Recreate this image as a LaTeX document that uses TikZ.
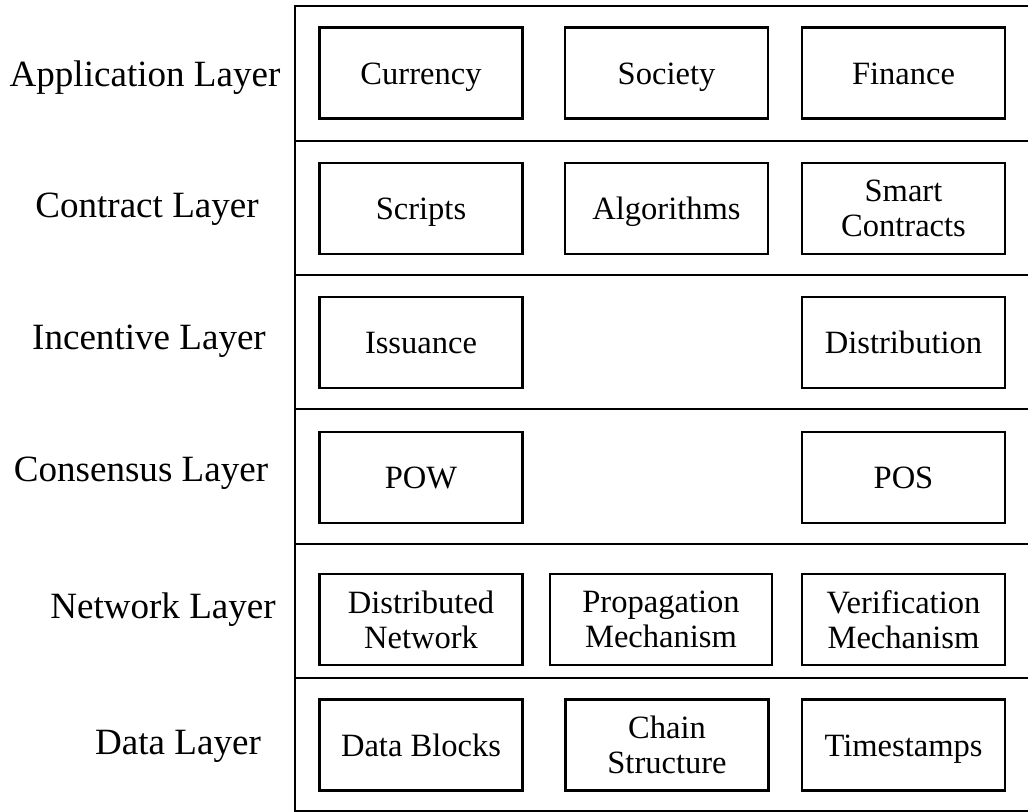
\documentclass[tikz,border=0pt]{standalone}
\usepackage{fontspec}
\setmainfont{Liberation Serif}

\begin{document}
\begin{tikzpicture}[x=0.75pt,y=-0.75pt,
  frame/.style={line width=1.6pt},
  layer/.style={inner sep=0pt,font=\fontsize{27.8}{30}\selectfont},
  item/.style={draw,line width=1.8pt,minimum width=152pt,minimum height=68pt,
    inner sep=0pt,align=center,font=\fontsize{24.4}{26.3}\selectfont},
  oneline/.style={text height=16.8pt,text depth=0pt}]

  % \draw[step=50,thin,gray] (0,0) grid (1028,812);
  \useasboundingbox (0,0) rectangle (1028,812);

  % outer frame, open to the right
  \draw[frame] (1030,6) -- (295,6) -- (295,811) -- (1030,811);
  \draw[frame] (295,141) -- (1030,141);
  \draw[frame] (295,275) -- (1030,275);
  \draw[frame] (295,409) -- (1030,409);
  \draw[frame] (295,544) -- (1030,544);
  \draw[frame] (295,678) -- (1030,678);

  % layer names
  \draw (145,78) node (lapp) [layer] {Application Layer};
  \draw (147,209.5) node (lcon) [layer] {Contract Layer};
  \draw (149,341) node (linc) [layer] {Incentive Layer};
  \draw (141,473) node (lcns) [layer] {Consensus Layer};
  \draw (163,610) node (lnet) [layer] {Network Layer};
  \draw (178,746) node (ldat) [layer] {Data Layer};

  \draw (421,73) node (cur) [item,oneline] {Currency};
  \draw (666.5,73) node (soc) [item,oneline] {Society};
  \draw (903.5,73) node (fin) [item,oneline] {Finance};

  \draw (421,208.5) node (scr) [item,oneline] {Scripts};
  \draw (666.5,208.5) node (alg) [item,oneline] {Algorithms};
  \draw (903.5,208.5) node (smc) [item] {Smart\\Contracts};

  \draw (421,342.5) node (iss) [item,oneline] {Issuance};
  \draw (903.5,342.5) node (dis) [item,oneline] {Distribution};

  \draw (421,477.5) node (pow) [item,oneline] {POW};
  \draw (903.5,477.5) node (pos) [item,oneline] {POS};

  \draw (421,619.5) node (dnet) [item] {Distributed\\Network};
  \draw (661,619.5) node (prop) [item,minimum width=166.5pt] {Propagation\\Mechanism};
  \draw (903.5,619.5) node (ver) [item] {Verification\\Mechanism};

  \draw (421,745) node (dblk) [item,oneline] {Data Blocks};
  \draw (667,745) node (chain) [item] {Chain\\Structure};
  \draw (903.5,745) node (ts) [item,oneline] {Timestamps};

\end{tikzpicture}
\end{document}
